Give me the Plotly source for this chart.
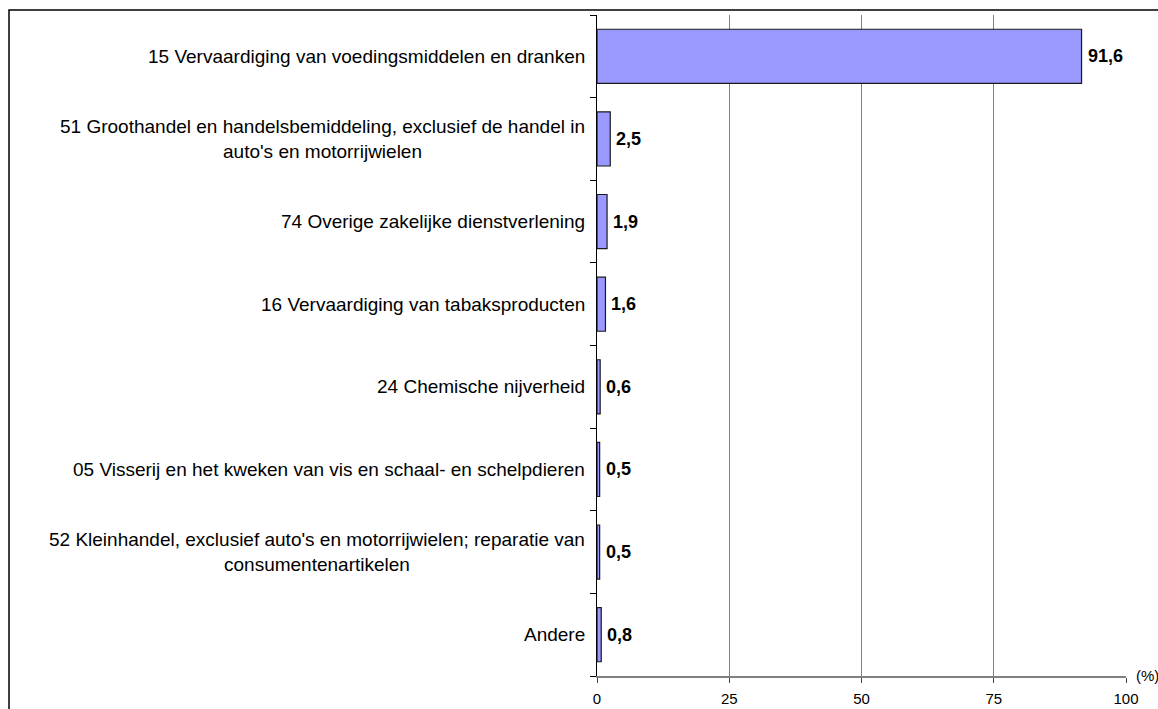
import plotly.graph_objects as go

categories = [
    "15 Vervaardiging van voedingsmiddelen en dranken",
    "51 Groothandel en handelsbemiddeling, exclusief de handel in<br>auto's en motorrijwielen",
    "74 Overige zakelijke dienstverlening",
    "16 Vervaardiging van tabaksproducten",
    "24 Chemische nijverheid",
    "05 Visserij en het kweken van vis en schaal- en schelpdieren",
    "52 Kleinhandel, exclusief auto's en motorrijwielen; reparatie van<br>consumentenartikelen",
    "Andere",
]
values = [91.6, 2.5, 1.9, 1.6, 0.6, 0.5, 0.5, 0.8]
x_ticks = [0, 25, 50, 75, 100]
x_unit_label = "(%)"

FONT = "Liberation Sans, Arial, sans-serif"
W, H = 1158, 709
L, R, T, B = 597, 32, 15, 33
pw, ph = W - L - R, H - T - B

ycats = list(range(len(categories)))

fig = go.Figure()
fig.add_trace(go.Bar(
    x=values, y=ycats, orientation="h",
    marker=dict(color="#9999FF", line=dict(color="#1a1a1a", width=1.2)),
    width=0.655, hoverinfo="skip",
))

ann = []
for i, (c, v) in enumerate(zip(categories, values)):
    ann.append(dict(xref="paper", yref="y", x=0, y=i, text=c, showarrow=False,
                    xanchor="right", yanchor="middle", align="center", xshift=-10,
                    font=dict(family=FONT, size=19, color="#000000")))
    ann.append(dict(xref="x", yref="y", x=v, y=i, text=f"<b>{v:.1f}</b>".replace(".", ","),
                    showarrow=False, xanchor="left", yanchor="middle", xshift=4,
                    font=dict(family=FONT, size=18, color="#000000")))
ann.append(dict(xref="paper", yref="paper", x=1, y=0, text=x_unit_label, showarrow=False,
                xanchor="left", yanchor="middle", xshift=8, yshift=1,
                font=dict(family=FONT, size=15, color="#000000")))

x0 = (9 - L) / pw
y1 = 1 + (T - 10) / ph
fig.add_shape(type="rect", xref="paper", yref="paper", x0=x0, x1=(W + 20 - L) / pw,
              y0=-(H + 20 - (T + ph)) / ph, y1=y1,
              line=dict(color="#000000", width=1.5), fillcolor="rgba(0,0,0,0)", layer="above")

fig.update_layout(
    width=W, height=H, margin=dict(l=L, r=R, t=T, b=B, autoexpand=False),
    paper_bgcolor="white", plot_bgcolor="white", showlegend=False,
    annotations=ann,
    xaxis=dict(range=[0, 100], tickvals=x_ticks, ticktext=[str(t) for t in x_ticks],
               showgrid=True, gridcolor="#808080", gridwidth=1, zeroline=False,
               showline=True, linecolor="#808080", linewidth=1.5,
               ticks="outside", ticklen=5, tickcolor="#404040", ticklabelstandoff=3,
               tickfont=dict(family=FONT, size=15, color="#000000"), fixedrange=True),
    yaxis=dict(range=[len(categories) - 0.5, -0.5], tickvals=[i - 0.5 for i in range(len(categories) + 1)],
               showticklabels=False, showgrid=False, zeroline=False,
               showline=True, linecolor="#000000", linewidth=1.2,
               ticks="outside", ticklen=6, tickcolor="#000000", fixedrange=True),
    font=dict(family=FONT),
)

fig.write_html("out.html", config={"displayModeBar": False, "staticPlot": True},
               post_script="document.body.style.margin='0px';document.body.style.overflow='hidden';")
